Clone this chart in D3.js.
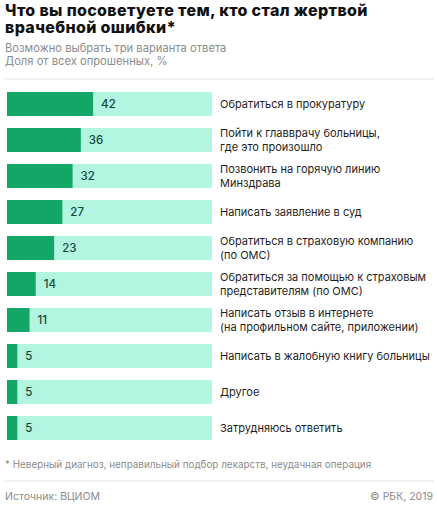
<!DOCTYPE html>
<html lang="ru">
  <head>
    <meta charset="UTF-8" />
    <title>Что вы посоветуете</title>
    <style>
      body { margin: 0; background: #fff; }
      svg text { font-family: "Inter", "Roboto", sans-serif; }
    </style>
  </head>
  <body>
    <script src="https://cdn.jsdelivr.net/npm/d3@7/dist/d3.min.js"></script>
    <script>
      // data
      var answers = [
        ["Обратиться в прокуратуру"],
        ["Пойти к главврачу больницы,", "где это произошло"],
        ["Позвонить на горячую линию", "Минздрава"],
        ["Написать заявление в суд"],
        ["Обратиться в страховую компанию", "(по ОМС)"],
        ["Обратиться за помощью к страховым", "представителям (по ОМС)"],
        ["Написать отзыв в интернете", "(на профильном сайте, приложении)"],
        ["Написать в жалобную книгу больницы"],
        ["Другое"],
        ["Затрудняюсь ответить"]
      ];
      var shares = [42, 36, 32, 27, 23, 14, 11, 5, 5, 5];
      var titleLines = ["Что вы посоветуете тем, кто стал жертвой", "врачебной ошибки*"];

      var w = 437, h = 505;

      var svg = d3.select("body").append("svg")
                  .attr("width", w)
                  .attr("height", h);

      // header, one text block with two lines
      var title = svg.append("text")
                     .attr("font-size", 16).attr("font-weight", 800).attr("fill", "#111")
                     .attr("letter-spacing", 0.35);
      titleLines.forEach(function(s, k) {
        title.append("tspan").attr("x", 5).attr("y", 16 + k * 17).text(s);
      });
      svg.append("text").attr("x", 5).attr("y", 52)
         .attr("font-size", 11.2).attr("fill", "#8c8c8c")
         .text("Возможно выбрать три варианта ответа");
      svg.append("text").attr("x", 5).attr("y", 65)
         .attr("font-size", 11.2).attr("fill", "#8c8c8c")
         .text("Доля от всех опрошенных, %");
      svg.append("line").attr("x1", 5).attr("x2", 434).attr("y1", 79).attr("y2", 79)
         .attr("stroke", "#e2e2e2");

      var xScale = d3.scaleLinear().domain([0, 100]).range([7, 212]);
      var yScale = d3.scaleBand()
                     .domain(d3.range(shares.length))
                     .range([86, 446])
                     .paddingInner(1 / 3).paddingOuter(1 / 6);

      var rows = svg.selectAll("g.row")
                    .data(shares)
                    .enter()
                    .append("g")
                    .attr("class", "row")
                    .attr("transform", function(d, i) { return "translate(0," + yScale(i) + ")"; });

      var bh = yScale.bandwidth();

      rows.append("rect")
          .attr("x", xScale(0))
          .attr("width", xScale(100) - xScale(0))
          .attr("height", bh)
          .attr("fill", "#b2f5e1");

      rows.append("rect")
          .attr("x", xScale(0))
          .attr("width", function(d) { return xScale(d) - xScale(0); })
          .attr("height", bh)
          .attr("fill", "#12a667");

      rows.append("text")
          .attr("x", function(d) { return xScale(d) + 8; })
          .attr("y", bh / 2 + 4)
          .attr("font-size", 11.5)
          .attr("font-weight", 500)
          .attr("fill", "#124a3a")
          .text(function(d) { return d; });

      rows.append("text")
          .attr("x", 220)
          .attr("font-size", 11)
          .attr("fill", "#1e1e1e")
          .each(function(d, i) {
            var lines = answers[i];
            var t = d3.select(this);
            lines.forEach(function(s, k) {
              t.append("tspan")
               .attr("x", 220)
               .attr("y", bh / 2 + 4 + (k - (lines.length - 1) / 2) * 14)
               .text(s);
            });
          });

      // footer
      svg.append("text").attr("x", 5).attr("y", 468)
         .attr("font-size", 9.9).attr("fill", "#8c8c8c")
         .text("* Неверный диагноз, неправильный подбор лекарств, неудачная операция");
      svg.append("line").attr("x1", 5).attr("x2", 434).attr("y1", 481).attr("y2", 481)
         .attr("stroke", "#e2e2e2");
      svg.append("text").attr("x", 5).attr("y", 500)
         .attr("font-size", 10.5).attr("fill", "#8c8c8c")
         .text("Источник: ВЦИОМ");
      svg.append("text").attr("x", 433).attr("y", 500)
         .attr("text-anchor", "end")
         .attr("font-size", 10.5).attr("fill", "#8c8c8c")
         .text("© РБК, 2019");
    </script>
  </body>
</html>
